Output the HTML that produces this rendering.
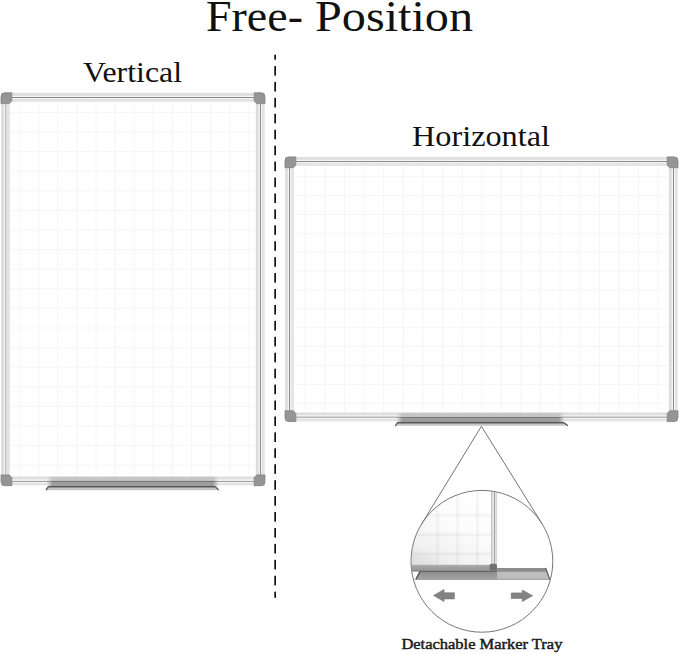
<!DOCTYPE html>
<html><head><meta charset="utf-8"><style>
html,body{margin:0;padding:0;background:#fff;width:679px;height:654px;overflow:hidden;position:relative;font-family:"Liberation Serif",serif}
</style></head><body>
<svg width="679" height="654" viewBox="0 0 679 654" style="position:absolute;left:0;top:0">

<defs>
<linearGradient id="rh" x1="0" y1="0" x2="0" y2="1">
 <stop offset="0" stop-color="#e8e8e8"/>
 <stop offset="0.1" stop-color="#dcdcdc"/>
 <stop offset="0.3" stop-color="#e2e2e2"/>
 <stop offset="0.37" stop-color="#f8f8f8"/>
 <stop offset="0.44" stop-color="#f2f2f2"/>
 <stop offset="0.48" stop-color="#888888"/>
 <stop offset="0.54" stop-color="#888888"/>
 <stop offset="0.58" stop-color="#f4f4f4"/>
 <stop offset="0.64" stop-color="#f8f8f8"/>
 <stop offset="0.72" stop-color="#e0e0e0"/>
 <stop offset="0.9" stop-color="#e6e6e6"/>
 <stop offset="1" stop-color="#f2f2f2"/>
</linearGradient>
<linearGradient id="rv" x1="0" y1="0" x2="1" y2="0">
 <stop offset="0" stop-color="#e8e8e8"/>
 <stop offset="0.1" stop-color="#dcdcdc"/>
 <stop offset="0.3" stop-color="#e2e2e2"/>
 <stop offset="0.37" stop-color="#f8f8f8"/>
 <stop offset="0.44" stop-color="#f2f2f2"/>
 <stop offset="0.48" stop-color="#888888"/>
 <stop offset="0.54" stop-color="#888888"/>
 <stop offset="0.58" stop-color="#f4f4f4"/>
 <stop offset="0.64" stop-color="#f8f8f8"/>
 <stop offset="0.72" stop-color="#e0e0e0"/>
 <stop offset="0.9" stop-color="#e6e6e6"/>
 <stop offset="1" stop-color="#f2f2f2"/>
</linearGradient>
<linearGradient id="rvl" x1="0" y1="0" x2="1" y2="0">
 <stop offset="0" stop-color="#e8e8e8"/>
 <stop offset="0.12" stop-color="#dcdcdc"/>
 <stop offset="0.32" stop-color="#e0e0e0"/>
 <stop offset="0.38" stop-color="#f6f6f6"/>
 <stop offset="0.46" stop-color="#bdbdbd"/>
 <stop offset="0.54" stop-color="#bdbdbd"/>
 <stop offset="0.62" stop-color="#f4f4f4"/>
 <stop offset="0.7" stop-color="#e2e2e2"/>
 <stop offset="0.9" stop-color="#e6e6e6"/>
 <stop offset="1" stop-color="#f2f2f2"/>
</linearGradient>
<linearGradient id="trayov" x1="0" y1="0" x2="1" y2="0">
 <stop offset="0" stop-color="#fff" stop-opacity="0"/>
 <stop offset="0.035" stop-color="#fff" stop-opacity="1"/>
 <stop offset="0.965" stop-color="#fff" stop-opacity="1"/>
 <stop offset="1" stop-color="#fff" stop-opacity="0"/>
</linearGradient>
<linearGradient id="boardg" x1="0.8" y1="0" x2="0.3" y2="1">
 <stop offset="0" stop-color="#ffffff"/>
 <stop offset="0.5" stop-color="#fcfcfc"/>
 <stop offset="0.85" stop-color="#f0f0f0"/>
 <stop offset="1" stop-color="#e0e0e0"/>
</linearGradient>
<linearGradient id="rvc" x1="0" y1="0" x2="1" y2="0">
 <stop offset="0" stop-color="#c4c4c4"/>
 <stop offset="0.22" stop-color="#cfcfcf"/>
 <stop offset="0.3" stop-color="#eeeeee"/>
 <stop offset="0.44" stop-color="#e6e6e6"/>
 <stop offset="0.5" stop-color="#a4a4a4"/>
 <stop offset="0.58" stop-color="#a4a4a4"/>
 <stop offset="0.66" stop-color="#e2e2e2"/>
 <stop offset="1" stop-color="#d6d6d6"/>
</linearGradient>
<linearGradient id="rbc" x1="0" y1="0" x2="0" y2="1">
 <stop offset="0" stop-color="#b0b0b0"/>
 <stop offset="0.3" stop-color="#a2a2a2"/>
 <stop offset="0.75" stop-color="#999999"/>
 <stop offset="1" stop-color="#7a7a7a"/>
</linearGradient>
<linearGradient id="trc" x1="0" y1="0" x2="0" y2="1">
 <stop offset="0" stop-color="#8a8a8a"/>
 <stop offset="1" stop-color="#a6a6a6"/>
</linearGradient>
<clipPath id="circ"><circle cx="481.9" cy="561.3" r="70.4"/></clipPath>
</defs>

<rect width="679" height="654" fill="#fff"/>
<text x="206" y="31" font-family="Liberation Serif" font-size="45" fill="#111" textLength="97" lengthAdjust="spacingAndGlyphs">Free-</text>
<text x="315" y="31" font-family="Liberation Serif" font-size="45" fill="#111" textLength="158" lengthAdjust="spacingAndGlyphs">Position</text>
<text x="83" y="82" font-family="Liberation Serif" font-size="29.3" fill="#111" textLength="99" lengthAdjust="spacingAndGlyphs">Vertical</text>
<text x="412" y="146.4" font-family="Liberation Serif" font-size="29.3" fill="#111" textLength="138" lengthAdjust="spacingAndGlyphs">Horizontal</text>
<text x="401.4" y="649.1" font-family="Liberation Serif" font-size="14.4" fill="#1a1a1a" stroke="#1a1a1a" stroke-width="0.45" textLength="161" lengthAdjust="spacingAndGlyphs">Detachable Marker Tray</text>
<rect x="274.3" y="54.70" width="1.7" height="4.97" fill="#111"/>
<rect x="274.3" y="66.00" width="1.7" height="9.60" fill="#111"/>
<rect x="274.3" y="81.93" width="1.7" height="9.60" fill="#111"/>
<rect x="274.3" y="97.86" width="1.7" height="9.60" fill="#111"/>
<rect x="274.3" y="113.79" width="1.7" height="9.60" fill="#111"/>
<rect x="274.3" y="129.72" width="1.7" height="9.60" fill="#111"/>
<rect x="274.3" y="145.65" width="1.7" height="9.60" fill="#111"/>
<rect x="274.3" y="161.58" width="1.7" height="9.60" fill="#111"/>
<rect x="274.3" y="177.51" width="1.7" height="9.60" fill="#111"/>
<rect x="274.3" y="193.44" width="1.7" height="9.60" fill="#111"/>
<rect x="274.3" y="209.37" width="1.7" height="9.60" fill="#111"/>
<rect x="274.3" y="225.30" width="1.7" height="9.60" fill="#111"/>
<rect x="274.3" y="241.23" width="1.7" height="9.60" fill="#111"/>
<rect x="274.3" y="257.16" width="1.7" height="9.60" fill="#111"/>
<rect x="274.3" y="273.09" width="1.7" height="9.60" fill="#111"/>
<rect x="274.3" y="289.02" width="1.7" height="9.60" fill="#111"/>
<rect x="274.3" y="304.95" width="1.7" height="9.60" fill="#111"/>
<rect x="274.3" y="320.88" width="1.7" height="9.60" fill="#111"/>
<rect x="274.3" y="336.81" width="1.7" height="9.60" fill="#111"/>
<rect x="274.3" y="352.74" width="1.7" height="9.60" fill="#111"/>
<rect x="274.3" y="368.67" width="1.7" height="9.60" fill="#111"/>
<rect x="274.3" y="384.60" width="1.7" height="9.60" fill="#111"/>
<rect x="274.3" y="400.53" width="1.7" height="9.60" fill="#111"/>
<rect x="274.3" y="416.46" width="1.7" height="9.60" fill="#111"/>
<rect x="274.3" y="432.39" width="1.7" height="9.60" fill="#111"/>
<rect x="274.3" y="448.32" width="1.7" height="9.60" fill="#111"/>
<rect x="274.3" y="464.25" width="1.7" height="9.60" fill="#111"/>
<rect x="274.3" y="480.18" width="1.7" height="9.60" fill="#111"/>
<rect x="274.3" y="496.11" width="1.7" height="9.60" fill="#111"/>
<rect x="274.3" y="512.04" width="1.7" height="9.60" fill="#111"/>
<rect x="274.3" y="527.97" width="1.7" height="9.60" fill="#111"/>
<rect x="274.3" y="543.90" width="1.7" height="9.60" fill="#111"/>
<rect x="274.3" y="559.83" width="1.7" height="9.60" fill="#111"/>
<rect x="274.3" y="575.76" width="1.7" height="9.60" fill="#111"/>
<rect x="274.3" y="591.69" width="1.7" height="6.11" fill="#111"/>
<rect x="10.3" y="102.1" width="245.4" height="374.29999999999995" fill="#fff"/>
<line x1="19.70" y1="102.1" x2="19.70" y2="476.4" stroke="#f5f5f5" stroke-width="1"/>
<line x1="38.80" y1="102.1" x2="38.80" y2="476.4" stroke="#f5f5f5" stroke-width="1"/>
<line x1="57.90" y1="102.1" x2="57.90" y2="476.4" stroke="#f5f5f5" stroke-width="1"/>
<line x1="77.00" y1="102.1" x2="77.00" y2="476.4" stroke="#f5f5f5" stroke-width="1"/>
<line x1="96.10" y1="102.1" x2="96.10" y2="476.4" stroke="#f5f5f5" stroke-width="1"/>
<line x1="115.20" y1="102.1" x2="115.20" y2="476.4" stroke="#f5f5f5" stroke-width="1"/>
<line x1="134.30" y1="102.1" x2="134.30" y2="476.4" stroke="#f5f5f5" stroke-width="1"/>
<line x1="153.40" y1="102.1" x2="153.40" y2="476.4" stroke="#f5f5f5" stroke-width="1"/>
<line x1="172.50" y1="102.1" x2="172.50" y2="476.4" stroke="#f5f5f5" stroke-width="1"/>
<line x1="191.60" y1="102.1" x2="191.60" y2="476.4" stroke="#f5f5f5" stroke-width="1"/>
<line x1="210.70" y1="102.1" x2="210.70" y2="476.4" stroke="#f5f5f5" stroke-width="1"/>
<line x1="229.80" y1="102.1" x2="229.80" y2="476.4" stroke="#f5f5f5" stroke-width="1"/>
<line x1="248.90" y1="102.1" x2="248.90" y2="476.4" stroke="#f5f5f5" stroke-width="1"/>
<line x1="10.3" y1="112.40" x2="255.7" y2="112.40" stroke="#f5f5f5" stroke-width="1"/>
<line x1="10.3" y1="132.00" x2="255.7" y2="132.00" stroke="#f5f5f5" stroke-width="1"/>
<line x1="10.3" y1="151.60" x2="255.7" y2="151.60" stroke="#f5f5f5" stroke-width="1"/>
<line x1="10.3" y1="171.20" x2="255.7" y2="171.20" stroke="#f5f5f5" stroke-width="1"/>
<line x1="10.3" y1="190.80" x2="255.7" y2="190.80" stroke="#f5f5f5" stroke-width="1"/>
<line x1="10.3" y1="210.40" x2="255.7" y2="210.40" stroke="#f5f5f5" stroke-width="1"/>
<line x1="10.3" y1="230.00" x2="255.7" y2="230.00" stroke="#f5f5f5" stroke-width="1"/>
<line x1="10.3" y1="249.60" x2="255.7" y2="249.60" stroke="#f5f5f5" stroke-width="1"/>
<line x1="10.3" y1="269.20" x2="255.7" y2="269.20" stroke="#f5f5f5" stroke-width="1"/>
<line x1="10.3" y1="288.80" x2="255.7" y2="288.80" stroke="#f5f5f5" stroke-width="1"/>
<line x1="10.3" y1="308.40" x2="255.7" y2="308.40" stroke="#f5f5f5" stroke-width="1"/>
<line x1="10.3" y1="328.00" x2="255.7" y2="328.00" stroke="#f5f5f5" stroke-width="1"/>
<line x1="10.3" y1="347.60" x2="255.7" y2="347.60" stroke="#f5f5f5" stroke-width="1"/>
<line x1="10.3" y1="367.20" x2="255.7" y2="367.20" stroke="#f5f5f5" stroke-width="1"/>
<line x1="10.3" y1="386.80" x2="255.7" y2="386.80" stroke="#f5f5f5" stroke-width="1"/>
<line x1="10.3" y1="406.40" x2="255.7" y2="406.40" stroke="#f5f5f5" stroke-width="1"/>
<line x1="10.3" y1="426.00" x2="255.7" y2="426.00" stroke="#f5f5f5" stroke-width="1"/>
<line x1="10.3" y1="445.60" x2="255.7" y2="445.60" stroke="#f5f5f5" stroke-width="1"/>
<line x1="10.3" y1="465.20" x2="255.7" y2="465.20" stroke="#f5f5f5" stroke-width="1"/>
<rect x="1" y="92.8" width="264" height="9.3" fill="url(#rh)"/>
<rect x="1" y="476.4" width="264" height="9.3" fill="url(#rh)"/>
<rect x="1" y="92.8" width="9.3" height="392.9" fill="url(#rvl)"/>
<rect x="255.7" y="92.8" width="9.3" height="392.9" fill="url(#rv)"/>
<path d="M1,96.8 Q1,92.8 5.0,92.8 L11.8,92.8 L11.8,101.0 L9.200000000000001,103.6 L1,103.6 Z" fill="#959595" stroke="#828282" stroke-width="0.8"/>
<path d="M254.2,92.8 L261.0,92.8 Q265.0,92.8 265.0,96.8 L265.0,103.6 L256.8,103.6 L254.2,101.0 Z" fill="#959595" stroke="#828282" stroke-width="0.8"/>
<path d="M1,474.9 L9.200000000000001,474.9 L11.8,477.5 L11.8,485.7 L5.0,485.7 Q1,485.7 1,481.7 Z" fill="#959595" stroke="#828282" stroke-width="0.8"/>
<path d="M256.8,474.9 L265.0,474.9 L265.0,481.7 Q265.0,485.7 261.0,485.7 L254.2,485.7 L254.2,477.5 Z" fill="#959595" stroke="#828282" stroke-width="0.8"/>
<mask id="m49" maskUnits="userSpaceOnUse" x="44.7" y="474.7" width="176.10000000000002" height="13.400000000000034"><rect x="46.7" y="474.7" width="172.10000000000002" height="13.400000000000034" fill="url(#trayov)"/></mask>
<g mask="url(#m49)">
<rect x="46.7" y="476.7" width="172.10000000000002" height="4.100000000000023" fill="#c6c6c6" />
<rect x="46.7" y="480.8" width="172.10000000000002" height="1.1" fill="#727272" />
<rect x="46.7" y="481.90000000000003" width="172.10000000000002" height="4.200000000000012" fill="#9c9c9c" />
</g>
<path d="M48.3,486.1 L215.4,486.1 L218.7,490.2 L46,490.2 Z" fill="#c4c4c4"/>
<rect x="48.3" y="486.1" width="167.10000000000002" height="1.3" fill="#4a4a4a"/>
<path d="M46,490.2 L48.3,486.70000000000005" fill="none" stroke="#555" stroke-width="1.2"/>
<path d="M215.4,486.70000000000005 L218.7,490.2" fill="none" stroke="#555" stroke-width="1.2"/>
<rect x="294.3" y="166.20000000000002" width="374.4" height="246.10000000000005" fill="#fff"/>
<line x1="305.40" y1="166.20000000000002" x2="305.40" y2="412.3" stroke="#f5f5f5" stroke-width="1"/>
<line x1="324.99" y1="166.20000000000002" x2="324.99" y2="412.3" stroke="#f5f5f5" stroke-width="1"/>
<line x1="344.58" y1="166.20000000000002" x2="344.58" y2="412.3" stroke="#f5f5f5" stroke-width="1"/>
<line x1="364.17" y1="166.20000000000002" x2="364.17" y2="412.3" stroke="#f5f5f5" stroke-width="1"/>
<line x1="383.76" y1="166.20000000000002" x2="383.76" y2="412.3" stroke="#f5f5f5" stroke-width="1"/>
<line x1="403.35" y1="166.20000000000002" x2="403.35" y2="412.3" stroke="#f5f5f5" stroke-width="1"/>
<line x1="422.94" y1="166.20000000000002" x2="422.94" y2="412.3" stroke="#f5f5f5" stroke-width="1"/>
<line x1="442.53" y1="166.20000000000002" x2="442.53" y2="412.3" stroke="#f5f5f5" stroke-width="1"/>
<line x1="462.12" y1="166.20000000000002" x2="462.12" y2="412.3" stroke="#f5f5f5" stroke-width="1"/>
<line x1="481.71" y1="166.20000000000002" x2="481.71" y2="412.3" stroke="#f5f5f5" stroke-width="1"/>
<line x1="501.30" y1="166.20000000000002" x2="501.30" y2="412.3" stroke="#f5f5f5" stroke-width="1"/>
<line x1="520.89" y1="166.20000000000002" x2="520.89" y2="412.3" stroke="#f5f5f5" stroke-width="1"/>
<line x1="540.48" y1="166.20000000000002" x2="540.48" y2="412.3" stroke="#f5f5f5" stroke-width="1"/>
<line x1="560.07" y1="166.20000000000002" x2="560.07" y2="412.3" stroke="#f5f5f5" stroke-width="1"/>
<line x1="579.66" y1="166.20000000000002" x2="579.66" y2="412.3" stroke="#f5f5f5" stroke-width="1"/>
<line x1="599.25" y1="166.20000000000002" x2="599.25" y2="412.3" stroke="#f5f5f5" stroke-width="1"/>
<line x1="618.84" y1="166.20000000000002" x2="618.84" y2="412.3" stroke="#f5f5f5" stroke-width="1"/>
<line x1="638.43" y1="166.20000000000002" x2="638.43" y2="412.3" stroke="#f5f5f5" stroke-width="1"/>
<line x1="658.02" y1="166.20000000000002" x2="658.02" y2="412.3" stroke="#f5f5f5" stroke-width="1"/>
<line x1="294.3" y1="176.70" x2="668.7" y2="176.70" stroke="#f5f5f5" stroke-width="1"/>
<line x1="294.3" y1="195.58" x2="668.7" y2="195.58" stroke="#f5f5f5" stroke-width="1"/>
<line x1="294.3" y1="214.46" x2="668.7" y2="214.46" stroke="#f5f5f5" stroke-width="1"/>
<line x1="294.3" y1="233.34" x2="668.7" y2="233.34" stroke="#f5f5f5" stroke-width="1"/>
<line x1="294.3" y1="252.22" x2="668.7" y2="252.22" stroke="#f5f5f5" stroke-width="1"/>
<line x1="294.3" y1="271.10" x2="668.7" y2="271.10" stroke="#f5f5f5" stroke-width="1"/>
<line x1="294.3" y1="289.98" x2="668.7" y2="289.98" stroke="#f5f5f5" stroke-width="1"/>
<line x1="294.3" y1="308.86" x2="668.7" y2="308.86" stroke="#f5f5f5" stroke-width="1"/>
<line x1="294.3" y1="327.74" x2="668.7" y2="327.74" stroke="#f5f5f5" stroke-width="1"/>
<line x1="294.3" y1="346.62" x2="668.7" y2="346.62" stroke="#f5f5f5" stroke-width="1"/>
<line x1="294.3" y1="365.50" x2="668.7" y2="365.50" stroke="#f5f5f5" stroke-width="1"/>
<line x1="294.3" y1="384.38" x2="668.7" y2="384.38" stroke="#f5f5f5" stroke-width="1"/>
<line x1="294.3" y1="403.26" x2="668.7" y2="403.26" stroke="#f5f5f5" stroke-width="1"/>
<rect x="285" y="156.9" width="393" height="9.3" fill="url(#rh)"/>
<rect x="285" y="412.3" width="393" height="9.3" fill="url(#rh)"/>
<rect x="285" y="156.9" width="9.3" height="264.70000000000005" fill="url(#rv)"/>
<rect x="668.7" y="156.9" width="9.3" height="264.70000000000005" fill="url(#rv)"/>
<path d="M285,160.9 Q285,156.9 289.0,156.9 L295.8,156.9 L295.8,165.10000000000002 L293.2,167.70000000000002 L285,167.70000000000002 Z" fill="#959595" stroke="#828282" stroke-width="0.8"/>
<path d="M667.2,156.9 L674.0,156.9 Q678.0,156.9 678.0,160.9 L678.0,167.70000000000002 L669.8000000000001,167.70000000000002 L667.2,165.10000000000002 Z" fill="#959595" stroke="#828282" stroke-width="0.8"/>
<path d="M285,410.8 L293.2,410.8 L295.8,413.40000000000003 L295.8,421.6 L289.0,421.6 Q285,421.6 285,417.6 Z" fill="#959595" stroke="#828282" stroke-width="0.8"/>
<path d="M669.8000000000001,410.8 L678.0,410.8 L678.0,417.6 Q678.0,421.6 674.0,421.6 L667.2,421.6 L667.2,413.40000000000003 Z" fill="#959595" stroke="#828282" stroke-width="0.8"/>
<mask id="m399" maskUnits="userSpaceOnUse" x="394.4" y="410.8" width="172.30000000000007" height="13.300000000000011"><rect x="396.4" y="410.8" width="168.30000000000007" height="13.300000000000011" fill="url(#trayov)"/></mask>
<g mask="url(#m399)">
<rect x="396.4" y="412.8" width="168.30000000000007" height="4.199999999999989" fill="#c6c6c6" />
<rect x="396.4" y="417.0" width="168.30000000000007" height="1.1" fill="#727272" />
<rect x="396.4" y="418.1" width="168.30000000000007" height="4.000000000000023" fill="#9c9c9c" />
</g>
<path d="M397.5,422.1 L563.9,422.1 L567.9,425.8 L395.3,425.8 Z" fill="#c4c4c4"/>
<rect x="397.5" y="422.1" width="166.39999999999998" height="1.3" fill="#4a4a4a"/>
<path d="M395.3,425.8 L397.5,422.70000000000005" fill="none" stroke="#555" stroke-width="1.2"/>
<path d="M563.9,422.70000000000005 L567.9,425.8" fill="none" stroke="#555" stroke-width="1.2"/>
<line x1="481.4" y1="426.3" x2="542.10" y2="523.84" stroke="#747474" stroke-width="1"/>
<line x1="481.4" y1="426.3" x2="421.43" y2="524.29" stroke="#747474" stroke-width="1"/>
<g clip-path="url(#circ)">
<rect x="400" y="480" width="91" height="86" fill="url(#boardg)"/>
<line x1="436.7" y1="480" x2="436.7" y2="566" stroke="#000" stroke-opacity="0.05" stroke-width="1"/>
<line x1="438.3" y1="480" x2="438.3" y2="566" stroke="#000" stroke-opacity="0.05" stroke-width="1"/>
<line x1="456.7" y1="480" x2="456.7" y2="566" stroke="#000" stroke-opacity="0.05" stroke-width="1"/>
<line x1="458.3" y1="480" x2="458.3" y2="566" stroke="#000" stroke-opacity="0.05" stroke-width="1"/>
<line x1="476.59999999999997" y1="480" x2="476.59999999999997" y2="566" stroke="#000" stroke-opacity="0.05" stroke-width="1"/>
<line x1="478.2" y1="480" x2="478.2" y2="566" stroke="#000" stroke-opacity="0.05" stroke-width="1"/>
<line x1="400" y1="514.6" x2="491" y2="514.6" stroke="#000" stroke-opacity="0.05" stroke-width="1"/>
<line x1="400" y1="516.1999999999999" x2="491" y2="516.1999999999999" stroke="#000" stroke-opacity="0.05" stroke-width="1"/>
<line x1="400" y1="533.9000000000001" x2="491" y2="533.9000000000001" stroke="#000" stroke-opacity="0.05" stroke-width="1"/>
<line x1="400" y1="535.5" x2="491" y2="535.5" stroke="#000" stroke-opacity="0.05" stroke-width="1"/>
<line x1="400" y1="553.2" x2="491" y2="553.2" stroke="#000" stroke-opacity="0.05" stroke-width="1"/>
<line x1="400" y1="554.8" x2="491" y2="554.8" stroke="#000" stroke-opacity="0.05" stroke-width="1"/>
<rect x="491" y="480" width="6.2" height="88" fill="url(#rvc)"/>
<rect x="400" y="564.8" width="97" height="6.8" fill="url(#rbc)"/>
<path d="M420.2,571 L497,571 L497,579.6 L415.7,579.6 Z" fill="url(#trc)"/>
<line x1="420" y1="571.5" x2="497" y2="571.5" stroke="#666" stroke-width="1"/>
<path d="M497,567.9 L545.7,567.9 L549.8,579.6 L497,579.6 Z" fill="#bdbdbd"/>
<path d="M497,567.9 L545.7,567.9 L547.1,571.7 L497,571.7 Z" fill="#8c8c8c"/>
<path d="M415.7,579.6 L420.2,571" fill="none" stroke="#505050" stroke-width="1.3"/>
<path d="M545.7,567.9 L549.8,579.6" fill="none" stroke="#606060" stroke-width="1.3"/>
<line x1="415.7" y1="579.3" x2="549.8" y2="579.3" stroke="#8a8a8a" stroke-width="0.8"/>
<rect x="489.6" y="563.7" width="7.3" height="6.9" rx="1.8" fill="#707070"/>
</g>
<circle cx="481.9" cy="561.3" r="70.9" fill="none" stroke="#777" stroke-width="1"/>
<path d="M433.6,595.5 L444,589.4 L444,592.8 L454.4,592.8 L454.4,598.9 L444,598.9 L444,601.6 Z" fill="#848484" stroke="#6e6e6e" stroke-width="0.6" stroke-linejoin="miter"/>
<path d="M532.6,595.7 L522.3,589.9 L522.3,592.9 L511.3,592.9 L511.3,598.4 L522.3,598.4 L522.3,601.6 Z" fill="#848484" stroke="#6e6e6e" stroke-width="0.6"/>
</svg>
</body></html>
